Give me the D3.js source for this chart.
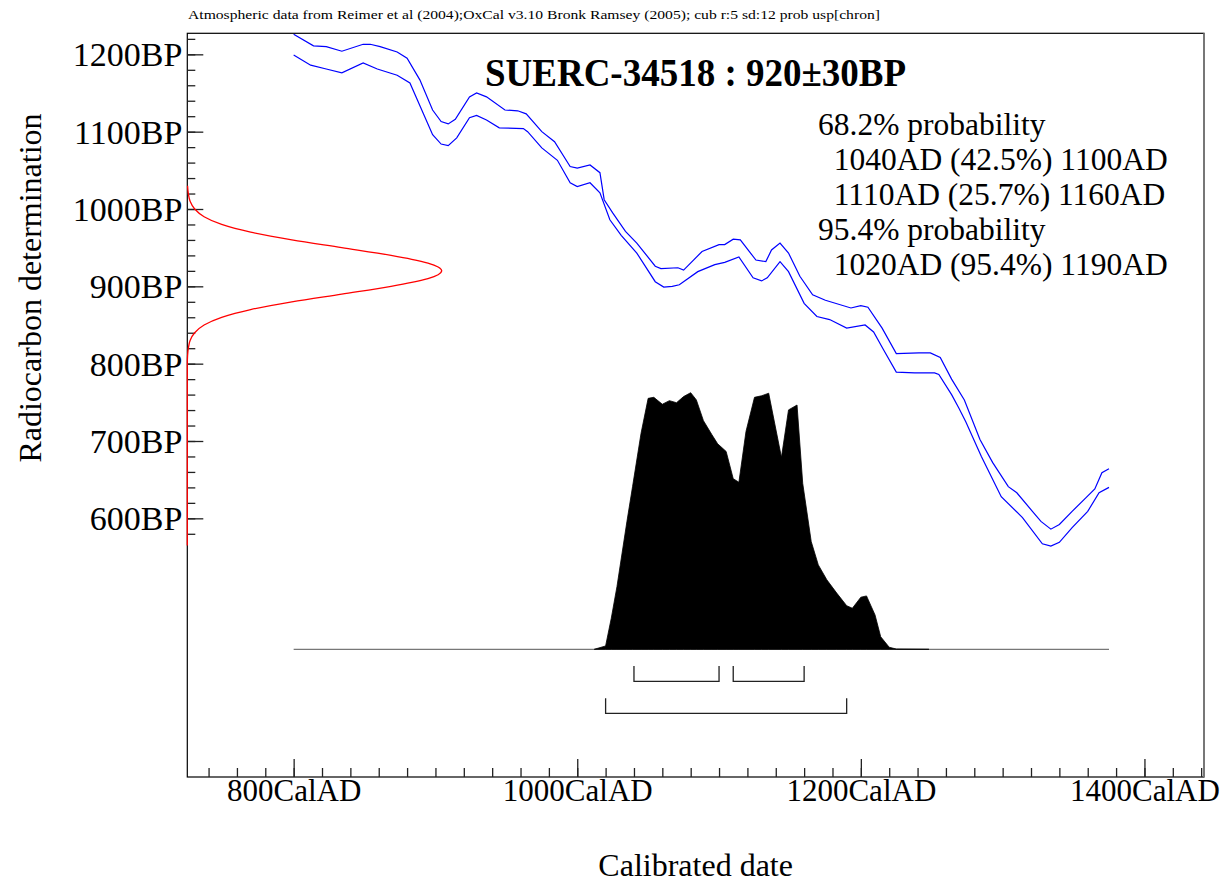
<!DOCTYPE html>
<html><head><meta charset="utf-8">
<script src="https://cdn.jsdelivr.net/npm/d3@7"></script>
<style>
body{margin:0;background:#fff}
svg{display:block}
text{font-family:"Liberation Serif","Times New Roman",serif;fill:#000}
.pre{white-space:pre}
</style>
</head><body>
<svg id="c" width="1231" height="883"></svg>
<script>
// ---------------- data ----------------
const caption = "Atmospheric data from Reimer et al (2004);OxCal v3.10 Bronk Ramsey (2005); cub r:5 sd:12 prob usp[chron]";
const title = "SUERC-34518 : 920\u00B130BP";
const resultLines = ["68.2% probability", "  1040AD (42.5%) 1100AD", "  1110AD (25.7%) 1160AD", "95.4% probability", "  1020AD (95.4%) 1190AD"];
const xTitle = "Calibrated date";
const yTitle = "Radiocarbon determination";

const xTickValues = [800, 1000, 1200, 1400];
const xTickLabels = ["800CalAD", "1000CalAD", "1200CalAD", "1400CalAD"];
const yTickValues = [600, 700, 800, 900, 1000, 1100, 1200];
const yTickLabels = ["600BP", "700BP", "800BP", "900BP", "1000BP", "1100BP", "1200BP"];

// calibration curve (upper and lower 1-sigma envelope), cal AD -> BP
const upperYears = [800,814,823,834,849,854,861,873,880,889,898,904,909,914,924,929,936,949,958,964,975,984,995,1000,1009,1016,1019,1025,1034,1042,1055,1059,1071,1075,1088,1100,1104,1110,1115,1126,1133,1137,1143,1149,1157,1166,1175,1193,1200,1205,1215,1225,1241,1249,1256,1264,1273,1284,1293,1304,1310,1321,1327,1334,1340,1349,1359,1365,1370,1375];
const upperBP = [1226,1211,1210,1204,1213,1213,1210,1203,1195,1167,1128,1113,1110,1116,1145,1150,1145,1128,1127,1123,1100,1087,1055,1053,1057,1047,1012,995,971,956,926,923,924,921,945,954,954,961,960,934,932,947,956,943,913,889,882,872,875,873,846,813,814,814,808,780,753,702,672,641,633,609,596,586,592,609,627,638,659,664];
const lowerYears = [800,812,823,834,849,859,873,882,898,904,909,915,924,929,936,945,962,965,975,986,995,1000,1009,1016,1023,1031,1042,1055,1061,1067,1072,1085,1097,1104,1114,1124,1130,1134,1143,1149,1160,1169,1178,1190,1203,1209,1216,1225,1238,1252,1255,1264,1269,1274,1285,1299,1314,1328,1334,1340,1349,1360,1368,1375];
const lowerBP = [1199,1186,1181,1176,1189,1181,1173,1163,1096,1084,1082,1092,1118,1121,1115,1105,1104,1100,1079,1063,1034,1029,1034,1021,986,966,943,906,899,900,902,919,928,931,938,911,907,911,932,919,878,861,857,846,850,841,818,789,788,788,786,760,743,725,680,628,601,567,564,569,588,609,633,640];

// calibrated probability distribution (relative)
const probYears = [1012,1020,1024,1028,1035,1039,1045,1050,1054,1060,1065,1070,1075,1080,1084,1089,1095,1099,1105,1110,1114,1119,1125,1130,1135,1144,1149,1155,1159,1165,1170,1176,1183,1190,1194,1200,1204,1210,1214,1220,1225,1248];
const probValues = [0,0.013,0.121,0.244,0.497,0.634,0.842,0.978,0.982,0.955,0.969,0.961,0.985,1.0,0.972,0.891,0.836,0.801,0.771,0.665,0.651,0.849,0.982,0.988,0.998,0.748,0.933,0.952,0.647,0.420,0.329,0.271,0.219,0.170,0.160,0.203,0.208,0.134,0.049,0.008,0.001,0];
const probBaseYears = [800, 1375];

// radiocarbon measurement distribution (relative), BP
const sampleBP = [1030,1020,1010,1000,990,980,970,960,950,940,935,930,925,920,915,910,905,900,890,880,870,860,850,840,830,820,810,800,565];
const sampleDensity = [0.001,0.004,0.011,0.029,0.066,0.135,0.249,0.411,0.607,0.801,0.882,0.946,0.986,1.0,0.986,0.946,0.882,0.801,0.607,0.411,0.249,0.135,0.066,0.029,0.011,0.004,0.001,0,0];

// highest probability ranges
const range68 = [[1040, 1100], [1110, 1160]];
const range95 = [[1020, 1190]];

// ---------------- layout ----------------
const L = 187.3, R = 1204, T = 33.3, B = 777;
const svg = d3.select("#c");
const x = d3.scaleLinear().domain([725, 1442]).range([L, R]);
const y = d3.scaleLinear().domain([265.5, 1227.2]).range([B, T]);
const pY = d3.scaleLinear().domain([0, 1]).range([649.3, 392.7]);
const dX = d3.scaleLinear().domain([0, 1]).range([L, 441.7]);

svg.append("defs").append("clipPath").attr("id", "clip")
  .append("rect").attr("x", L).attr("y", T).attr("width", R - L).attr("height", B - T);

// caption
svg.append("text").attr("x", 188).attr("y", 18.5).attr("font-size", 13.5)
  .attr("textLength", 692).attr("lengthAdjust", "spacingAndGlyphs").text(caption);

const plot = svg.append("g").attr("clip-path", "url(#clip)");

// calibration curve
const upper = upperYears.map((d, i) => [d, upperBP[i]]);
const lower = lowerYears.map((d, i) => [d, lowerBP[i]]);
const cl = d3.line().x(d => x(d[0])).y(d => y(d[1]));
[upper, lower].forEach(s => plot.append("path").attr("d", cl(s))
  .attr("fill", "none").attr("stroke", "#0000ff").attr("stroke-width", 1.2));

// probability baseline
plot.append("line").attr("x1", x(probBaseYears[0])).attr("x2", x(probBaseYears[1]))
  .attr("y1", pY(0)).attr("y2", pY(0)).attr("stroke", "#777").attr("stroke-width", 1.2);

// calibrated distribution
const prob = probYears.map((d, i) => [d, probValues[i]]);
plot.append("path").attr("d", d3.area().x(d => x(d[0])).y0(pY(0)).y1(d => pY(d[1]))(prob))
  .attr("fill", "#000").attr("stroke", "#000").attr("stroke-width", 0.8);

// range brackets
function bracket(r, top, bot) {
  const p = d3.path();
  p.moveTo(x(r[0]), top); p.lineTo(x(r[0]), bot); p.lineTo(x(r[1]), bot); p.lineTo(x(r[1]), top);
  return p.toString();
}
range68.forEach(r => plot.append("path").attr("d", bracket(r, 666, 681.3))
  .attr("fill", "none").attr("stroke", "#222").attr("stroke-width", 1.3));
range95.forEach(r => plot.append("path").attr("d", bracket(r, 698.3, 713.3))
  .attr("fill", "none").attr("stroke", "#222").attr("stroke-width", 1.3));

// frame
svg.append("rect").attr("x", L).attr("y", T).attr("width", R - L).attr("height", B - T)
  .attr("fill", "none").attr("stroke", "#000").attr("stroke-width", 1.2);
svg.append("line").attr("x1", R).attr("x2", R).attr("y1", T).attr("y2", B)
  .attr("stroke", "#777").attr("stroke-width", 2);

// axes
const minorX = d3.range(740, 1441, 20);
const minorY = d3.range(580, 1221, 20);
function styleAxis(g) {
  g.select(".domain").remove();
  g.selectAll(".tick line").attr("stroke", "#222").attr("stroke-width", 1.3);
}
svg.append("g").attr("transform", `translate(0,${B})`)
  .call(d3.axisBottom(x).tickValues(minorX).tickSize(-9).tickFormat(""))
  .call(styleAxis);
const gx = svg.append("g").attr("transform", `translate(0,${B})`)
  .call(d3.axisBottom(x).tickValues(xTickValues).tickSize(-18).tickPadding(0)
    .tickFormat((d, i) => xTickLabels[i]))
  .call(styleAxis);
gx.selectAll("text").attr("font-size", 31).attr("font-family", null).attr("fill", "#000")
  .attr("dy", null).attr("y", 24);

svg.append("g").attr("transform", `translate(${L},0)`)
  .call(d3.axisLeft(y).tickValues(minorY).tickSize(-8).tickFormat(""))
  .call(styleAxis);
const gy = svg.append("g").attr("transform", `translate(${L},0)`)
  .call(d3.axisLeft(y).tickValues(yTickValues).tickSize(-16).tickPadding(5)
    .tickFormat((d, i) => yTickLabels[i]))
  .call(styleAxis);
gy.selectAll("text").attr("font-size", 34).attr("font-family", null).attr("fill", "#000")
  .attr("dy", "0.34em");

// measurement distribution (red)
const samp = sampleBP.map((d, i) => [sampleDensity[i], d]);
svg.append("path").attr("d", d3.line().x(d => dX(d[0])).y(d => y(d[1])).curve(d3.curveMonotoneY)(samp))
  .attr("fill", "none").attr("stroke", "#ff0000").attr("stroke-width", 1.3);

// title and results
svg.append("text").attr("x", 485).attr("y", 86).attr("font-size", 40).attr("font-weight", "bold")
  .attr("textLength", 421).attr("lengthAdjust", "spacingAndGlyphs").text(title);
svg.append("g").selectAll("text").data(resultLines).join("text")
  .attr("class", "pre").attr("x", 818).attr("y", (d, i) => 135 + i * 35)
  .attr("font-size", 31.5).text(d => d);

// axis titles
svg.append("text").attr("x", (L + R) / 2).attr("y", 876).attr("text-anchor", "middle")
  .attr("font-size", 32).text(xTitle);
svg.append("text").attr("transform", "translate(41,288) rotate(-90)").attr("text-anchor", "middle")
  .attr("font-size", 32).text(yTitle);
</script>
</body></html>
